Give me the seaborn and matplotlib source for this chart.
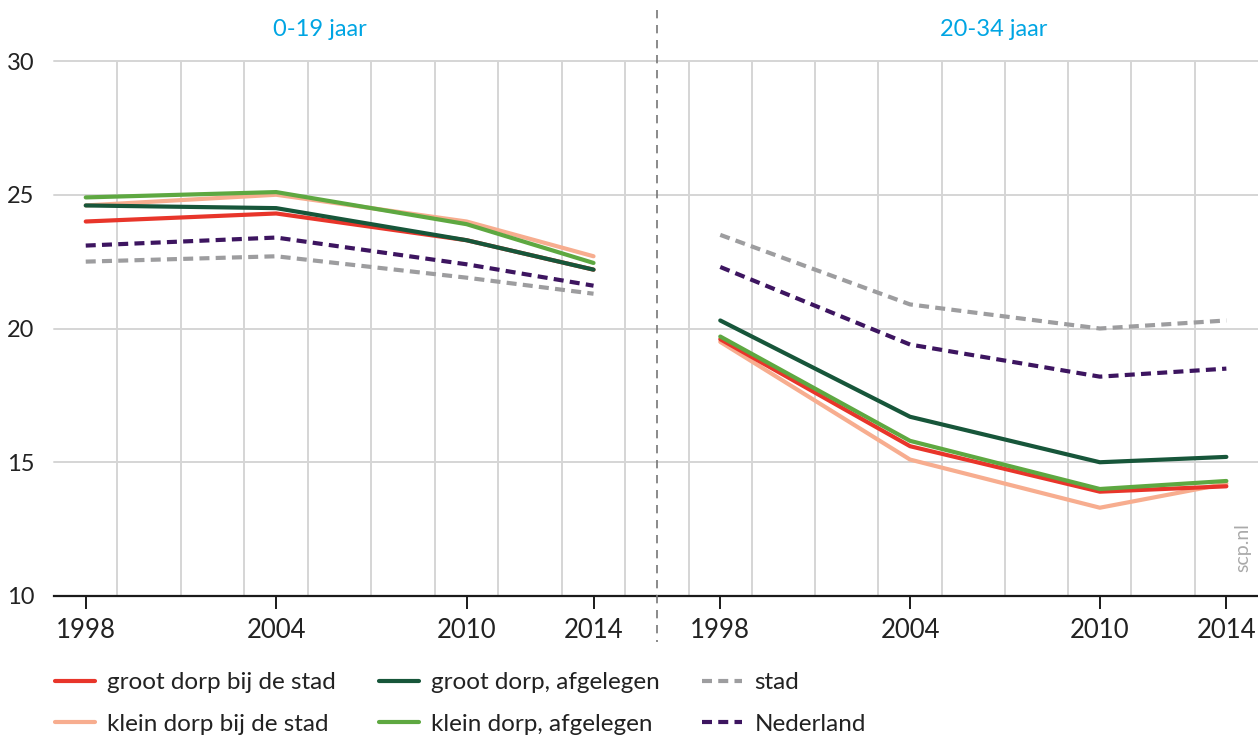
import pandas as pd
import matplotlib
import matplotlib.pyplot as plt
import seaborn as sns
from matplotlib.lines import Line2D
from matplotlib.ticker import FixedLocator

matplotlib.use("Agg")

# ── Data ──────────────────────────────────────────────────────────────────────
years = [1998, 2004, 2010, 2014]
panels = ["0-19 jaar", "20-34 jaar"]

series_names = [
    "groot dorp bij de stad",
    "klein dorp bij de stad",
    "groot dorp, afgelegen",
    "klein dorp, afgelegen",
    "stad",
    "Nederland",
]

# 0-19 jaar
young_groot_stad = [24.0, 24.3, 23.3, 22.2]
young_klein_stad = [24.6, 25.0, 24.0, 22.7]
young_groot_afg = [24.6, 24.5, 23.3, 22.2]
young_klein_afg = [24.9, 25.1, 23.9, 22.45]
young_stad = [22.5, 22.7, 21.9, 21.3]
young_nl = [23.1, 23.4, 22.4, 21.6]

# 20-34 jaar
adult_groot_stad = [19.6, 15.6, 13.9, 14.1]
adult_klein_stad = [19.5, 15.1, 13.3, 14.2]
adult_groot_afg = [20.3, 16.7, 15.0, 15.2]
adult_klein_afg = [19.7, 15.8, 14.0, 14.3]
adult_stad = [23.5, 20.9, 20.0, 20.3]
adult_nl = [22.3, 19.4, 18.2, 18.5]

values = {
    "0-19 jaar": [young_groot_stad, young_klein_stad, young_groot_afg,
                  young_klein_afg, young_stad, young_nl],
    "20-34 jaar": [adult_groot_stad, adult_klein_stad, adult_groot_afg,
                   adult_klein_afg, adult_stad, adult_nl],
}

# ── Style ─────────────────────────────────────────────────────────────────────
COLORS = {
    "groot dorp bij de stad": "#e8352a",
    "klein dorp bij de stad": "#f7ad8f",
    "groot dorp, afgelegen": "#17563a",
    "klein dorp, afgelegen": "#5ea841",
    "stad": "#9d9d9f",
    "Nederland": "#3d1560",
}
DASHED = {"stad", "Nederland"}
DRAW_ORDER = ["stad", "Nederland", "klein dorp bij de stad",
              "groot dorp bij de stad", "groot dorp, afgelegen",
              "klein dorp, afgelegen"]
DASH = (0, (2.4, 1.5))
TITLE_COLOR = "#00a5e3"
GRID_COLOR = "#d5d5d5"
TEXT_COLOR = "#222222"

sns.set_style("white")
plt.rcParams["font.family"] = ["Lato", "DejaVu Sans"]
plt.rcParams["text.color"] = TEXT_COLOR
plt.rcParams["xtick.color"] = TEXT_COLOR
plt.rcParams["ytick.color"] = TEXT_COLOR

W, H = 1258, 735
fig = plt.figure(figsize=(W / 100, H / 100), dpi=100)

ax_bottom = 1 - 596 / H
ax_height = (596 - 61) / H
axes = [
    fig.add_axes([54 / W, ax_bottom, 603 / W, ax_height]),
    fig.add_axes([657 / W, ax_bottom, 601 / W, ax_height]),
]
xlims = [(1997, 2016), (1996, 2015)]
minor_years = [list(range(1999, 2016, 2)), list(range(1997, 2014, 2))]
title_x = [320, 994]

for i, (ax, panel) in enumerate(zip(axes, panels)):
    rows = []
    for name, vals in zip(series_names, values[panel]):
        for yr, v in zip(years, vals):
            rows.append({"jaar": yr, "waarde": v, "reeks": name})
    df = pd.DataFrame(rows)

    for name in DRAW_ORDER:
        sub = df[df["reeks"] == name]
        sns.lineplot(
            data=sub, x="jaar", y="waarde", ax=ax,
            color=COLORS[name], linewidth=3.0,
            linestyle=DASH if name in DASHED else "-",
            legend=False,
        )

    ax.set_xlim(*xlims[i])
    ax.set_ylim(10, 30)
    ax.set_xticks(years)
    ax.set_xticklabels([str(y) for y in years], fontsize=18.5)
    ax.xaxis.set_minor_locator(FixedLocator(minor_years[i]))
    ax.set_yticks([10, 15, 20, 25, 30])
    ax.set_xlabel("")
    ax.set_ylabel("")

    ax.grid(False)
    ax.grid(True, axis="y", which="major", color=GRID_COLOR, linewidth=1.4)
    ax.grid(True, axis="x", which="minor", color=GRID_COLOR, linewidth=1.4)
    for gl in ax.get_ygridlines():
        gl.set_clip_on(False)
    ax.set_axisbelow(True)

    for side in ["top", "left", "right"]:
        ax.spines[side].set_visible(False)
    ax.spines["bottom"].set_color("#1a1a1a")
    ax.spines["bottom"].set_linewidth(1.6)
    ax.spines["bottom"].set_zorder(5)

    ax.tick_params(axis="x", which="major", direction="out", length=9,
                   width=1.4, color="#1a1a1a", pad=7, bottom=True)
    ax.tick_params(axis="x", which="minor", length=0)
    if i == 0:
        ax.tick_params(axis="y", length=0, pad=14, labelsize=17)
        ax.set_yticklabels(["10", "15", "20", "25", "30"])
    else:
        ax.tick_params(axis="y", length=0, labelleft=False)

    fig.text(title_x[i] / W, 1 - 30 / H, panel, color=TITLE_COLOR,
             fontsize=17, ha="center", va="center")

# dashed separator between the panels
fig.add_artist(Line2D([657 / W, 657 / W], [1 - 10 / H, 1 - 642 / H],
                      transform=fig.transFigure, color="#777777",
                      linewidth=1.2, linestyle=(0, (5, 4))))

# watermark
fig.text(1243 / W, 1 - 548 / H, "scp.nl", rotation=90, color="#aaaaaa",
         fontsize=14, ha="center", va="center")

# legend
handles = [
    Line2D([0], [0], color=COLORS[n], linewidth=3.0,
           linestyle=DASH if n in DASHED else "-")
    for n in series_names
]
fig.legend(
    handles, series_names,
    loc="upper left", bbox_to_anchor=(55 / W, 1 - 672 / H),
    ncol=3, frameon=False, fontsize=17.5,
    handlelength=1.65, handletextpad=0.5,
    columnspacing=1.75, labelspacing=0.85,
    borderaxespad=0, borderpad=0,
)

fig.savefig("out.png", dpi=100)
